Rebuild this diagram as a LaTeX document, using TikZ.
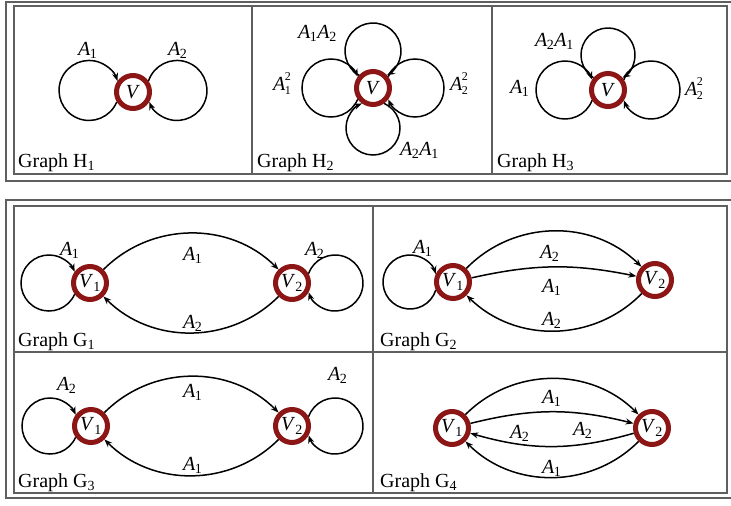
\documentclass[tikz,border=0pt]{standalone}
\usepackage{fontspec}
\setmainfont{Liberation Serif}
\usetikzlibrary{arrows.meta,calc}
\definecolor{ringred}{RGB}{140,22,22}
\definecolor{framegray}{RGB}{95,95,95}
\newcommand{\Ai}[1]{\textit{A}\kern-0.5pt\textsubscript{#1}}
\newcommand{\Asq}[1]{\textit{A}\kern-0.5pt\raisebox{-4.5pt}{\fontsize{12}{13.6}\selectfont\begin{tabular}[b]{@{}l@{}}2\\#1\end{tabular}}}
\newcommand{\selfloop}[4]{%
  \pgfmathsetmacro{\lpb}{acos((#3*#3+#4*#4-19*19)/(2*#3*#4))}%
  \pgfmathsetmacro{\lps}{#2+180-\lpb}%
  \pgfmathsetmacro{\lpe}{#2+180+\lpb-360}%
  \draw[edge] ($(#1)+(#2:#3)+(\lps:#4)$) arc[start angle=\lps, end angle=\lpe, radius=#4];%
}
\tikzset{
  vert/.style={circle, draw=ringred, line width=5pt, fill=white, minimum size=33pt, inner sep=0pt, font=\fontsize{20}{24}\selectfont},
  edge/.style={line width=1.5pt, -{Stealth[length=8pt,width=6pt]}},
  lab/.style={anchor=base west, inner sep=0pt, font=\fontsize{20}{24}\selectfont},
  frameline/.style={draw=framegray, line width=1.6pt},
}
\begin{document}
\begin{tikzpicture}[x=1pt,y=1pt]
\useasboundingbox (0,0) rectangle (731,-506);
\fill[white] (0,0) rectangle (731,-506);
% frames
\draw[frameline] (6,-2) rectangle (740,-181);
\draw[frameline] (14,-6) rectangle (727,-174);
\draw[frameline] (252,-6) -- (252,-174);
\draw[frameline] (492,-6) -- (492,-174);
\draw[frameline] (6,-200) rectangle (740,-498);
\draw[frameline] (14,-206) rectangle (727,-493);
\draw[frameline] (373,-206) -- (373,-493);
\draw[frameline] (14,-352) -- (727,-352);

% ---------- H1
\node[vert] (h1v) at (133,-92) {\textit{V}};
\selfloop{h1v}{178}{44}{30}
\selfloop{h1v}{2}{44}{30}
\node[lab] (h1a) at (78,-55) {\Ai1};
\node[lab] (h1b) at (168,-55) {\Ai2};
\node[lab] (h1t) at (18,-167) {Graph H\textsubscript{1}};

% ---------- H2
\node[vert] (h2v) at (373,-88) {\textit{V}};
\selfloop{h2v}{180}{42}{29}
\selfloop{h2v}{0}{42}{29}
\selfloop{h2v}{90}{37}{28}
\selfloop{h2v}{270}{40}{27}
\node[lab] (h2a) at (298,-38) {\Ai1\Ai2};
\node[lab] (h2b) at (273,-90) {\Asq1};
\node[lab] (h2c) at (450,-90) {\Asq2};
\node[lab] (h2d) at (400,-155) {\Ai2\Ai1};
\node[lab] (h2t) at (257,-167) {Graph H\textsubscript{2}};

% ---------- H3
\node[vert] (h3v) at (608,-90) {\textit{V}};
\selfloop{h3v}{180}{43}{29}
\selfloop{h3v}{0}{43}{29}
\selfloop{h3v}{90}{35}{27}
\node[lab] (h3a) at (535,-46) {\Ai2\Ai1};
\node[lab] (h3b) at (510,-93) {\Ai1};
\node[lab] (h3c) at (685,-95) {\Asq2};
\node[lab] (h3t) at (497,-167) {Graph H\textsubscript{3}};

% ---------- G1
\node[vert] (g1a) at (90,-283) {\textit{V}\textsubscript{1}};
\node[vert] (g1b) at (292,-283) {\textit{V}\textsubscript{2}};
\selfloop{g1a}{180}{41}{28}
\selfloop{g1b}{0}{43}{28}
\draw[edge] (g1a) to[bend left=45] (g1b);
\draw[edge] (g1b) to[bend left=45] (g1a);
\node[lab] (g1l1) at (60,-255) {\Ai1};
\node[lab] (g1l2) at (183,-260) {\Ai1};
\node[lab] (g1l3) at (305,-255) {\Ai2};
\node[lab] (g1l4) at (183,-328) {\Ai2};
\node[lab] (g1t) at (18,-346) {Graph G\textsubscript{1}};

% ---------- G2
\node[vert] (g2a) at (453,-282) {\textit{V}\textsubscript{1}};
\node[vert] (g2b) at (655,-280) {\textit{V}\textsubscript{2}};
\selfloop{g2a}{180}{43}{27}
\draw[edge] (g2a) to[bend left=45] (g2b);
\draw[edge] (g2a) to[bend left=12] (g2b);
\draw[edge] (g2b) to[bend left=45] (g2a);
\node[lab] (g2l1) at (413,-253) {\Ai1};
\node[lab] (g2l2) at (540,-258) {\Ai2};
\node[lab] (g2l3) at (542,-292) {\Ai1};
\node[lab] (g2l4) at (542,-325) {\Ai2};
\node[lab] (g2t) at (380,-346) {Graph G\textsubscript{2}};

% ---------- G3
\node[vert] (g3a) at (91,-426) {\textit{V}\textsubscript{1}};
\node[vert] (g3b) at (292,-426) {\textit{V}\textsubscript{2}};
\selfloop{g3a}{180}{41}{28}
\selfloop{g3b}{0}{43}{28}
\draw[edge] (g3a) to[bend left=45] (g3b);
\draw[edge] (g3b) to[bend left=45] (g3a);
\node[lab] (g3l1) at (57,-390) {\Ai2};
\node[lab] (g3l2) at (183,-397) {\Ai1};
\node[lab] (g3l3) at (328,-380) {\Ai2};
\node[lab] (g3l4) at (183,-470) {\Ai1};
\node[lab] (g3t) at (18,-487) {Graph G\textsubscript{3}};

% ---------- G4
\node[vert] (g4a) at (452,-428) {\textit{V}\textsubscript{1}};
\node[vert] (g4b) at (652,-428) {\textit{V}\textsubscript{2}};
\draw[edge] (g4a) to[bend left=45] (g4b);
\draw[edge] (g4a) to[bend left=14] (g4b);
\draw[edge] (g4b) to[bend left=16] (g4a);
\draw[edge] (g4b) to[bend left=45] (g4a);
\node[lab] (g4l1) at (542,-403) {\Ai1};
\node[lab] (g4l2) at (510,-438) {\Ai2};
\node[lab] (g4l3) at (573,-435) {\Ai2};
\node[lab] (g4l4) at (542,-473) {\Ai1};
\node[lab] (g4t) at (380,-487) {Graph G\textsubscript{4}};
\end{tikzpicture}
\end{document}
